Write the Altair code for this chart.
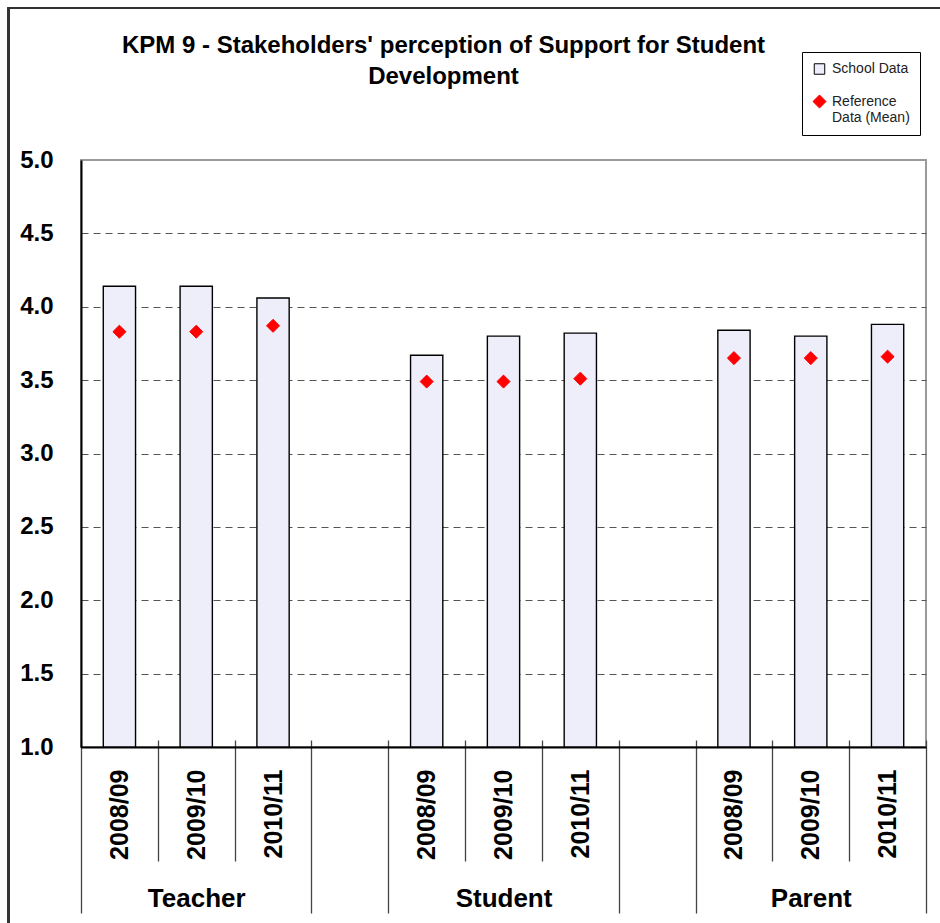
import altair as alt
import pandas as pd

FONT = "Liberation Sans"

# Survey results per stakeholder group and school year
groups = ["Teacher", "Student", "Parent"]
years = ["2008/09", "2009/10", "2010/11"]
school_data = {
    "Teacher": [4.14, 4.14, 4.06],
    "Student": [3.67, 3.80, 3.82],
    "Parent": [3.84, 3.80, 3.88],
}
reference_mean = {
    "Teacher": [3.83, 3.83, 3.87],
    "Student": [3.49, 3.49, 3.51],
    "Parent": [3.65, 3.65, 3.66],
}
y_ticks = [1.0, 1.5, 2.0, 2.5, 3.0, 3.5, 4.0, 4.5, 5.0]

SERIES = ["School Data", "Reference Data (Mean)"]
SLOTS_PER_GROUP = len(years) + 1          # one empty slot between groups
N_SLOTS = SLOTS_PER_GROUP * len(groups) - 1
BAR_HALF = 0.21                           # half bar width, in slot units

rows = []
for g, grp in enumerate(groups):
    for k, yr in enumerate(years):
        slot = g * SLOTS_PER_GROUP + k
        rows.append({"group": grp, "year": yr, "series": SERIES[0],
                     "value": school_data[grp][k], "xc": slot + 0.5,
                     "x0": slot + 0.5 - BAR_HALF, "x1": slot + 0.5 + BAR_HALF})
        rows.append({"group": grp, "year": yr, "series": SERIES[1],
                     "value": reference_mean[grp][k], "xc": slot + 0.5,
                     "x0": slot + 0.5 - BAR_HALF, "x1": slot + 0.5 + BAR_HALF})
df = pd.DataFrame(rows)
bars_df = df[df.series == SERIES[0]]
ref_df = df[df.series == SERIES[1]]

bounds_df = pd.DataFrame({"b": list(range(N_SLOTS + 1))})
group_centres = pd.DataFrame({
    "group": groups,
    "c": [g * SLOTS_PER_GROUP + len(years) / 2 for g in range(len(groups))],
})

W, H = 845, 587

x_scale = alt.Scale(domain=[0, N_SLOTS], nice=False, zero=False)
y_scale = alt.Scale(domain=[1, 5], nice=False, zero=False)

y_axis = alt.Axis(
    values=y_ticks, format=".1f", title=None,
    labelFont=FONT, labelFontSize=24, labelFontWeight="bold", labelColor="black",
    labelPadding=28, ticks=False, domainColor="black", domainWidth=2,
    grid=True, gridColor="#555555", gridDash=[7, 5], gridWidth=1.2,
    gridOpacity=alt.condition("datum.value > 1 && datum.value < 5",
                              alt.value(1), alt.value(0)),
)

year_expr = "[" + ",".join(f"'{y}'" for y in years) + "]"
year_axis = alt.Axis(
    orient="bottom", title=None,
    values=list(bars_df["xc"]),
    labelExpr=f"{year_expr}[floor(datum.value) % {SLOTS_PER_GROUP}]",
    labelAngle=270, labelAlign="right", labelBaseline="middle",
    labelFont=FONT, labelFontSize=25, labelFontWeight="bold", labelColor="black",
    labelPadding=22, labelOverlap=False, labelBound=False, labelFlush=False,
    ticks=False, grid=False, domain=True, domainColor="black", domainWidth=2,
)

sep_axis = alt.Axis(
    orient="bottom", title=None, values=list(range(N_SLOTS + 1)),
    labels=False, grid=False, domain=False, offset=-7,
    ticks=True, tickColor="#444444", tickWidth=1.3,
    tickSize=alt.condition(
        f"datum.value % {SLOTS_PER_GROUP} == 0 || datum.value % {SLOTS_PER_GROUP} == {SLOTS_PER_GROUP - 1}",
        alt.value(173), alt.value(121)),
)

group_axis = alt.Axis(
    orient="bottom", title=None, values=list(group_centres["c"]),
    labelExpr=f"[{','.join(repr(g) for g in groups)}][floor(datum.value / {SLOTS_PER_GROUP})]",
    labelFont=FONT, labelFontSize=26, labelFontWeight="bold", labelColor="black",
    labelBaseline="alphabetic", labelPadding=159, labelOverlap=False,
    ticks=False, grid=False, domain=False,
)

legend = alt.Legend(
    title=None, orient="none", legendX=721, legendY=-108, direction="vertical",
    strokeColor="black", fillColor="white", padding=10,
    labelFont=FONT, labelFontSize=14, labelColor="#222222", labelOffset=5,
    labelExpr="datum.label == 'Reference Data (Mean)' ? ['Reference', 'Data (Mean)'] : datum.label",
    rowPadding=15, symbolStrokeWidth=1,
)
color = alt.Color("series:N", scale=alt.Scale(domain=SERIES, range=["#eeeefb", "#ff0000"]),
                  legend=legend)
shape = alt.Shape("series:N", scale=alt.Scale(domain=SERIES, range=["square", "diamond"]),
                  legend=legend)
stroke = alt.Stroke("series:N", scale=alt.Scale(domain=SERIES, range=["black", "#ff0000"]),
                    legend=legend)
size = alt.Size("series:O", scale=alt.Scale(domain=SERIES, range=[110, 170]),
                legend=legend)

frame = alt.Chart(bounds_df).mark_rect(fillOpacity=0, stroke="#333333", strokeWidth=1.5).encode(
    x=alt.value(-72.5), x2=alt.value(W + 60), y=alt.value(-152), y2=alt.value(H + 220)
)

separators = alt.Chart(bounds_df).mark_point(opacity=0).encode(
    x=alt.X("b:Q", scale=x_scale, axis=sep_axis), y=alt.value(0)
)

group_labels = alt.Chart(group_centres).mark_point(opacity=0).encode(
    x=alt.X("c:Q", scale=x_scale, axis=group_axis), y=alt.value(0)
)

bars = alt.Chart(bars_df).mark_bar(stroke="black", strokeWidth=1.4).encode(
    x=alt.X("x0:Q", scale=x_scale, axis=year_axis), x2="x1:Q",
    y=alt.Y("value:Q", scale=y_scale, axis=y_axis), y2=alt.datum(1.0),
    color=color,
)

points = alt.Chart(ref_df).mark_point(filled=True, opacity=1, strokeWidth=1).encode(
    x=alt.X("xc:Q", scale=x_scale, axis=None),
    y=alt.Y("value:Q", scale=y_scale, axis=y_axis),
    color=color, shape=shape, stroke=stroke, size=size,
)

chart = alt.layer(frame, separators, group_labels, bars, points).resolve_axis(
    x="independent"
).properties(
    width=W, height=H,
    autosize=alt.AutoSizeParams(type="none"),
    padding={"left": 81, "top": 160, "right": 14, "bottom": 176},
    background="white",
    title=alt.TitleParams(
        text=["KPM 9 - Stakeholders' perception of Support for Student", "Development"],
        font=FONT, fontSize=24, fontWeight="bold", color="black",
        anchor="middle", lineHeight=31, dx=-60, dy=82, offset=0,
    ),
).configure_view(stroke="#9a9a9a", strokeWidth=2)

chart.save("out.html", embed_options={"renderer": "svg", "actions": False})
